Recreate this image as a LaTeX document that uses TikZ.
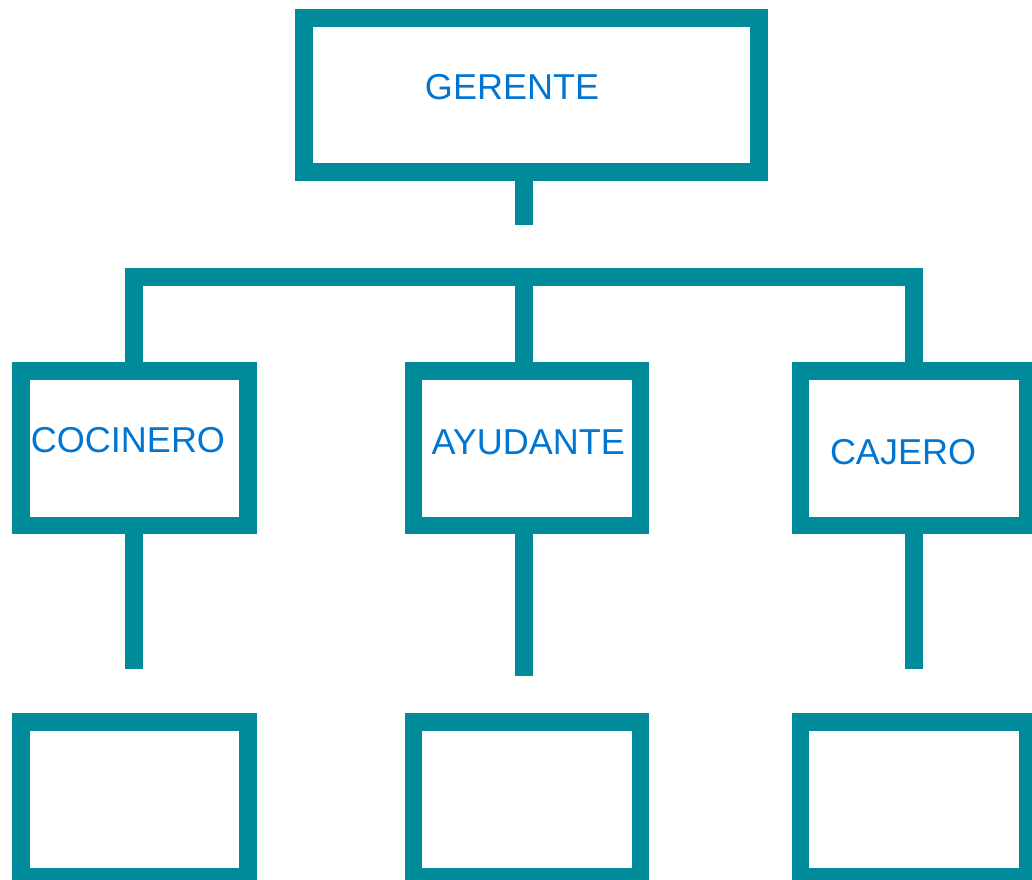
\documentclass[tikz,border=0pt]{standalone}
\usepackage{fontspec}
\setmainfont{Liberation Sans}
\usetikzlibrary{positioning}
\definecolor{orgteal}{RGB}{0,139,154}
\definecolor{orgblue}{RGB}{0,118,210}

\begin{document}
\begin{tikzpicture}[
		x=1pt, y=-1pt,
		box/.style={
				draw=orgteal,
				line width=17.5pt,
				minimum width=227pt,
				minimum height=154.5pt,
				inner sep=0pt,
				outer sep=0pt
		},
		link/.style={draw=orgteal, line width=17.5pt},
		lbl/.style={text=orgblue, font=\fontsize{36}{43}\selectfont, anchor=base, inner sep=0pt}
	]

	\useasboundingbox (0,0) rectangle (1032,879);
	\clip (0,0) rectangle (1032,879);

	% Top box
	\node[box, minimum width=455pt, minimum height=154pt] (gerente) at (531.5,95) {};

	% Second row
	\node[box] (ayudante) at (526.8,448.3) {};
	\node[box, left=165.5pt of ayudante] (cocinero) {};
	\node[box, right=160pt of ayudante] (cajero) {};

	% Empty boxes (bottom row)
	\node[box, below=196.5pt of cocinero] (subcocinero) {};
	\node[box, below=196.5pt of ayudante] (subayudante) {};
	\node[box, below=196.5pt of cajero] (subcajero) {};

	% Texts
	\node[lbl] (tgerente) at (512,99.3) {GERENTE};
	\node[lbl] (tcocinero) at (128,452) {COCINERO};
	\node[lbl] (tayudante) at (528.3,454) {AYUDANTE};
	\node[lbl] (tcajero) at (903,464.3) {CAJERO};

	% Stem under the top box
	\coordinate (gstem) at (524,225.3);
	\draw[link] (gerente.south -| gstem) -- (gstem);

	% Bus to the second row
	\coordinate (busL) at (133.8,276.8);
	\coordinate (busR) at (914,276.8);
	\draw[link] (cocinero.north -| busL) -- (busL) -- (busR) -- (cajero.north -| busR);
	\draw[link] (busL -| gstem) -- (ayudante.north -| gstem);

	% Stems under the second row
	\coordinate (cocend) at (133.8,669.3);
	\coordinate (ayuend) at (524,676);
	\coordinate (cajend) at (914,669.3);
	\draw[link] (cocinero.south -| cocend) -- (cocend);
	\draw[link] (ayudante.south -| ayuend) -- (ayuend);
	\draw[link] (cajero.south -| cajend) -- (cajend);

\end{tikzpicture}
\end{document}
